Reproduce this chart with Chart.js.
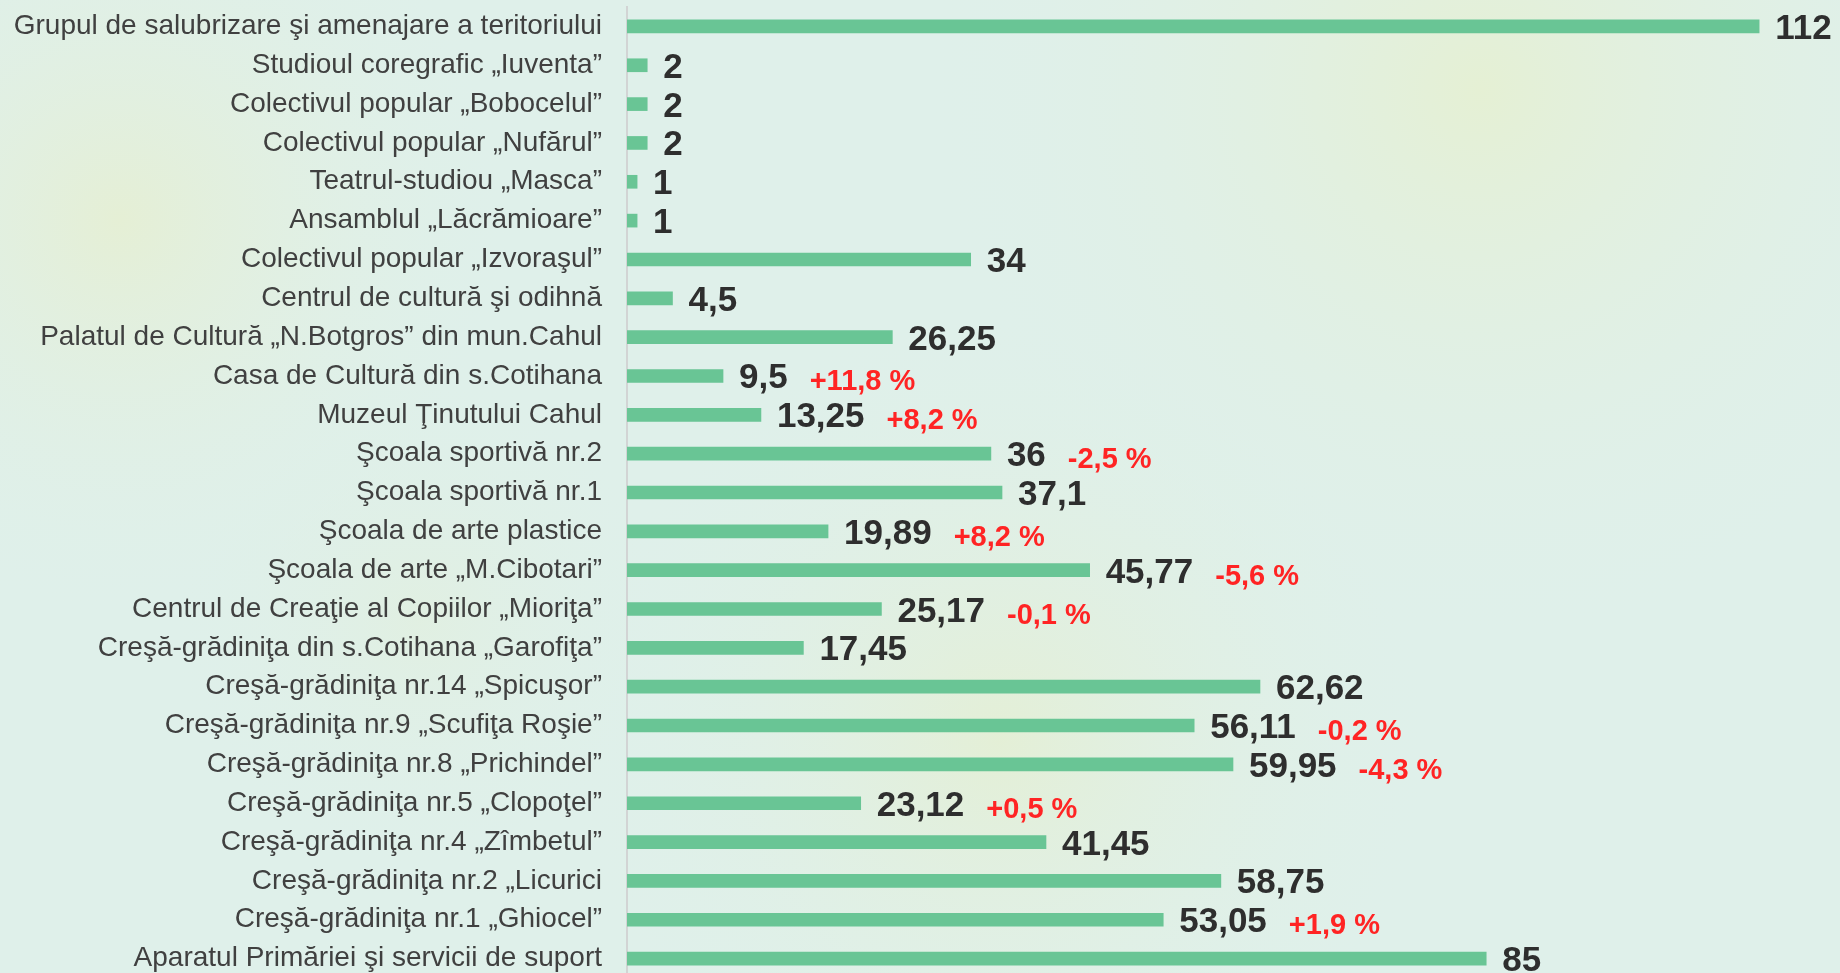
<!DOCTYPE html>
<html>
<head>
<meta charset="utf-8">
<script src="https://cdn.jsdelivr.net/npm/chart.js@4.4.1/dist/chart.umd.min.js"></script>
<style>
html,body{margin:0;padding:0;overflow:hidden;background:#dff0ea;}
#wrap{width:1840px;height:980px;position:relative;}
</style>
</head>
<body>
<div id="wrap"><canvas id="c" width="1840" height="980"></canvas></div>
<script>
const categories = [
  "Grupul de salubrizare şi amenajare a teritoriului",
  "Studioul coregrafic „Iuventa”",
  "Colectivul popular „Bobocelul”",
  "Colectivul popular „Nufărul”",
  "Teatrul-studiou „Masca”",
  "Ansamblul „Lăcrămioare”",
  "Colectivul popular „Izvoraşul”",
  "Centrul de cultură şi odihnă",
  "Palatul de Cultură „N.Botgros” din mun.Cahul",
  "Casa de Cultură din s.Cotihana",
  "Muzeul Ţinutului Cahul",
  "Şcoala sportivă nr.2",
  "Şcoala sportivă nr.1",
  "Şcoala de arte plastice",
  "Şcoala de arte „M.Cibotari”",
  "Centrul de Creaţie al Copiilor „Mioriţa”",
  "Creşă-grădiniţa din s.Cotihana „Garofiţa”",
  "Creşă-grădiniţa nr.14 „Spicuşor”",
  "Creşă-grădiniţa nr.9 „Scufiţa Roşie”",
  "Creşă-grădiniţa nr.8 „Prichindel”",
  "Creşă-grădiniţa nr.5 „Clopoţel”",
  "Creşă-grădiniţa nr.4 „Zîmbetul”",
  "Creşă-grădiniţa nr.2 „Licurici",
  "Creşă-grădiniţa nr.1 „Ghiocel”",
  "Aparatul Primăriei şi servicii de suport"
];
const values = [112, 2, 2, 2, 1, 1, 34, 4.5, 26.25, 9.5, 13.25, 36, 37.1, 19.89, 45.77, 25.17, 17.45, 62.62, 56.11, 59.95, 23.12, 41.45, 58.75, 53.05, 85];
const changes = ["", "", "", "", "", "", "", "", "", "+11,8 %", "+8,2 %", "-2,5 %", "", "+8,2 %", "-5,6 %", "-0,1 %", "", "", "-0,2 %", "-4,3 %", "+0,5 %", "", "", "+1,9 %", ""];
const xMin = 0;
const xMax = 120;

const bgPlugin = {
  id: 'bg',
  beforeDraw(chart) {
    const ctx = chart.ctx, w = chart.width, h = chart.height;
    ctx.save();
    ctx.fillStyle = '#dff0ea';
    ctx.fillRect(0, 0, w, h);
    const blobs = [
      [1480, 90, 560, 'rgba(229,240,212,1)'],
      [120, 220, 400, 'rgba(229,239,213,1)'],
      [1000, 740, 440, 'rgba(228,239,213,0.95)'],
      [420, 620, 260, 'rgba(226,239,220,0.6)']
    ];
    blobs.forEach(([x, y, r, c]) => {
      const g = ctx.createRadialGradient(x, y, 0, x, y, r);
      g.addColorStop(0, c);
      g.addColorStop(1, 'rgba(223,240,234,0)');
      ctx.fillStyle = g;
      ctx.fillRect(0, 0, w, h);
    });
    ctx.restore();
  }
};

function fmt(v) { return String(v).replace('.', ','); }

const labelPlugin = {
  id: 'vlabels',
  afterDatasetsDraw(chart) {
    const ctx = chart.ctx;
    const meta = chart.getDatasetMeta(0);
    ctx.save();
    meta.data.forEach((bar, i) => {
      const x = bar.x + 16;
      const base = bar.y + 12.5;
      ctx.font = 'bold 35px "Liberation Sans", Arial, sans-serif';
      ctx.fillStyle = '#2e2e2e';
      ctx.textAlign = 'left';
      ctx.textBaseline = 'alphabetic';
      const t = fmt(values[i]);
      ctx.fillText(t, x, base);
      if (changes[i]) {
        const tw = ctx.measureText(t).width;
        ctx.font = 'bold 29px "Liberation Sans", Arial, sans-serif';
        ctx.fillStyle = '#ff2424';
        ctx.fillText(changes[i], x + tw + 22, base + 2);
      }
    });
    ctx.restore();
  }
};

new Chart(document.getElementById('c'), {
  type: 'bar',
  data: {
    labels: categories,
    datasets: [{
      data: values,
      backgroundColor: '#69c595',
      borderWidth: 0,
      barThickness: 13
    }]
  },
  options: {
    indexAxis: 'y',
    responsive: false,
    animation: false,
    devicePixelRatio: 1,
    layout: { padding: { top: 7, bottom: 2, left: 0, right: 0 } },
    plugins: { legend: { display: false }, tooltip: { enabled: false } },
    scales: {
      x: { display: false, min: xMin, max: xMax },
      y: {
        grid: { display: false, drawTicks: false },
        border: { display: true, color: '#d2d4d4', width: 2 },
        ticks: {
          padding: 25,
          color: '#404040',
          font: { family: '"Liberation Sans", Arial, sans-serif', size: 28 }
        },
        afterFit(scale) {
          scale.width = 627;
          scale.paddingTop = 0;
          scale.paddingBottom = 0;
        }
      }
    }
  },
  plugins: [bgPlugin, labelPlugin]
});
</script>
</body>
</html>
